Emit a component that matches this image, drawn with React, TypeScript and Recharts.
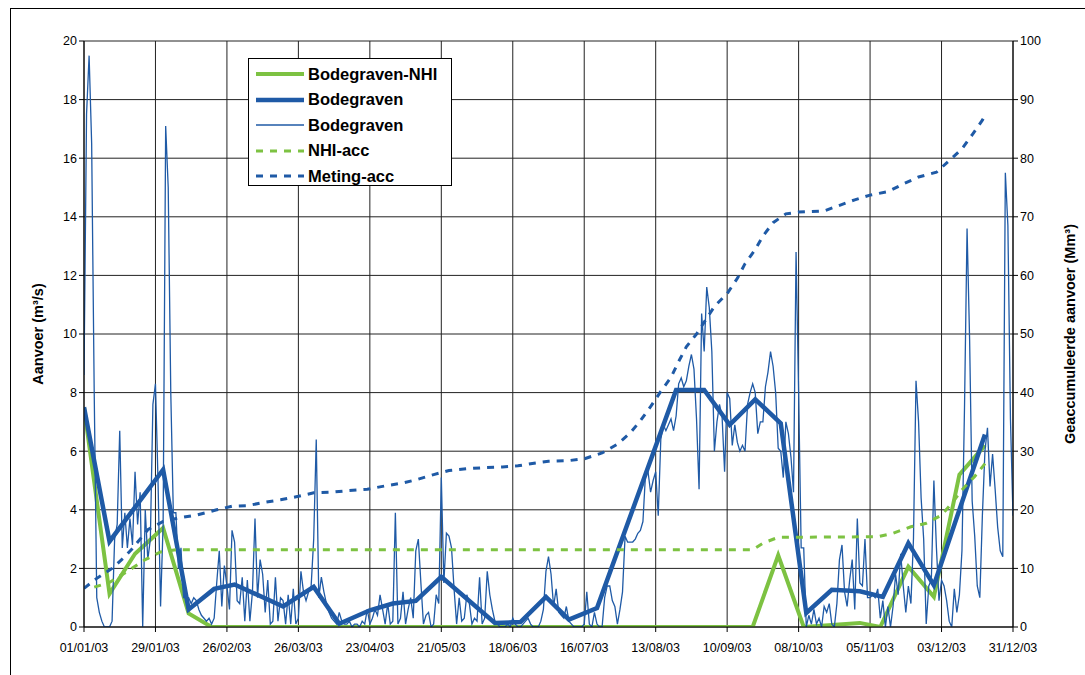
import React from "react";
import { ComposedChart, Line, XAxis, YAxis, CartesianGrid } from "recharts";

const GREEN = "#7DC242";
const BLUE = "#1F5AA6";
const FONT = "'Liberation Sans', Arial, sans-serif";

// x axis: day of year 2003
const tickDays = [0, 28, 56, 84, 112, 140, 168, 196, 224, 252, 280, 308, 336, 364];
const tickLabels = [
  "01/01/03", "29/01/03", "26/02/03", "26/03/03", "23/04/03", "21/05/03", "18/06/03",
  "16/07/03", "13/08/03", "10/09/03", "08/10/03", "05/11/03", "03/12/03", "31/12/03",
];
const flowTicks = [0, 2, 4, 6, 8, 10, 12, 14, 16, 18, 20];
const accTicks = [0, 10, 20, 30, 40, 50, 60, 70, 80, 90, 100];

// daily measured flow Bodegraven (m3/s), day 0 = 01/01/03
const dailyFlow = [
  8.6, 17.5, 19.5, 16.5, 8.0, 1.0, 0.5, 0.2, 0, 0,
  0, 0.2, 3.0, 3.5, 6.7, 2.7, 3.9, 2.7, 3.7, 2.8,
  5.3, 3.5, 4.6, 0, 4.0, 2.3, 3.0, 7.6, 8.3, 5.0,
  0.7, 3.5, 17.1, 15.0, 8.0, 3.9, 3.9, 2.0, 2.7, 1.0,
  1.0, 1.0, 0.8, 1.0, 0.9, 0.6, 0.4, 0.3, 0.2, 0.3,
  0.1, 0.3, 1.5, 2.6, 0.7, 2.1, 1.4, 0.6, 3.3, 2.9,
  0.9, 0.8, 1.7, 0.2, 1.6, 0.2, 1.2, 3.7, 1.0, 2.3,
  1.8, 0.5, 1.6, 0.1, 0.2, 1.7, 0.2, 1.0, 0.9, 0.1,
  1.1, 0.1, 1.3, 0.1, 0.3, 1.9, 1.2, 0.9, 1.2, 1.4,
  3.0, 6.4, 1.0, 1.7, 1.2, 0.8, 0.5, 0.3, 0.2, 0.1,
  0.5, 0.2, 0.1, 0.1, 0.2, 0, 0.1, 0.1, 0, 0.2,
  0.1, 0.6, 0.1, 0.3, 0.6, 0.4, 1.1, 0.6, 0.1, 0.8,
  0.1, 0.2, 3.9, 0.1, 0.3, 1.2, 0.1, 0.6, 1.0, 0.3,
  2.6, 3.0, 1.5, 0.1, 0.4, 0.5, 0, 0.1, 1.1, 0.8,
  5.1, 1.5, 3.2, 3.1, 2.7, 1.3, 0.1, 1.0, 0.2, 0.3,
  1.1, 0.8, 0.1, 0.3, 0.2, 1.7, 0.1, 0.3, 1.9, 1.1,
  0.6, 0.2, 0.1, 0, 0, 0, 0.1, 0, 0.3, 0.1,
  0, 0, 0.1, 0.2, 0.3, 0.1, 0, 0, 0, 0.2,
  0.6, 1.9, 2.4, 1.8, 0.7, 1.3, 0.5, 0.4, 0.3, 0.7,
  0.2, 0.1, 0, 0, 0, 0, 0.1, 1.2, 0.1, 0,
  0.5, 0.1, 0, 0, 1.0, 1.4, 1.4, 0.9, 0.7, 0.1,
  0.6, 1.2, 3.1, 2.9, 2.9, 2.9, 3.0, 3.2, 3.3, 3.6,
  5.2, 5.3, 4.6, 5.0, 5.3, 3.8, 6.4, 6.9, 6.7, 6.9,
  7.1, 6.7, 7.2, 8.3, 8.5, 8.2, 8.4, 8.9, 9.3, 8.8,
  7.1, 4.7, 10.7, 9.4, 11.6, 10.9, 9.4, 6.0, 7.0, 7.6,
  7.2, 5.3, 8.0, 7.8, 6.2, 6.9, 6.3, 6.0, 6.2, 6.0,
  7.6, 8.0, 8.3, 8.0, 6.6, 7.0, 7.0, 8.2, 8.7, 9.4,
  8.9, 8.0, 6.1, 6.0, 5.1, 7.0, 6.6, 5.8, 4.6, 12.8,
  8.0, 2.7, 2.7, 0, 0.4, 0.1, 0.6, 0.1, 0.3, 0,
  0.7, 0.5, 0.8, 0.1, 0, 0.8, 2.3, 2.8, 1.2, 0.7,
  1.6, 2.3, 0.6, 3.7, 1.5, 1.4, 3.0, 1.0, 1.0, 1.1,
  1.0, 1.3, 0.3, 0.9, 0, 0.7, 0, 0.7, 1.8, 1.1,
  2.5, 1.4, 0.5, 1.4, 0.8, 3.0, 8.4, 7.0, 4.4, 3.0,
  0.1, 1.4, 1.6, 5.0, 2.7, 0.9, 1.6, 1.4, 0.9, 0.2,
  0, 1.3, 0.5, 1.1, 2.6, 7.5, 13.6, 9.8, 4.3, 3.1,
  1.4, 1.0, 3.8, 6.0, 6.8, 4.8, 5.9, 4.7, 3.4, 2.6,
  2.4, 15.5, 13.7, 7.1, 3.8,
];

// Bodegraven-NHI (model)
const nhiDays = [0, 10, 20, 31, 41, 50, 262, 272, 282, 304, 312, 323, 333, 343, 353];
const nhiFlow = [7.5, 1.13, 2.5, 3.38, 0.46, 0, 0, 2.45, 0, 0.14, 0, 2.06, 1.03, 5.2, 6.2];

// Bodegraven (period means)
const measDays = [0, 10, 31, 41, 51, 59, 78, 90, 100, 112, 121, 130, 140, 161, 171, 181, 190, 201, 232, 243, 253, 263, 273, 283, 293, 304, 313, 323, 333, 353];
const measFlow = [7.5, 2.92, 5.37, 0.6, 1.3, 1.45, 0.7, 1.37, 0.11, 0.57, 0.8, 0.89, 1.71, 0.14, 0.17, 1.03, 0.25, 0.65, 8.09, 8.09, 6.9, 7.77, 6.95, 0.48, 1.27, 1.22, 1.03, 2.86, 1.43, 6.57];

// accumulated volumes (Mm3)
const nhiAccDays = [4, 10, 17, 24, 30, 36, 262, 266, 272, 311, 317, 324, 330, 336, 340, 344, 349, 354];
const nhiAccVals = [6.8, 7.6, 9.5, 11.5, 12.8, 13.2, 13.2, 14.3, 15.3, 15.4, 16, 17.1, 17.7, 19.1, 21.1, 23.4, 25.7, 28.4];

const metAccDays = [0, 5, 11, 16, 19, 25, 31, 37, 44, 52, 58, 64, 71, 77, 84, 90, 97, 104, 111, 117, 124, 130, 137, 143, 150, 157, 164, 170, 177, 182, 190, 196, 203, 209, 214, 218, 222, 226, 230, 233, 236, 240, 247, 252, 256, 259, 263, 266, 270, 275, 280, 290, 302, 308, 315, 321, 327, 334, 339, 344, 348, 352, 353];
const metAccVals = [6.6, 8.3, 10, 12, 13.4, 16.6, 18, 18.6, 19.1, 20, 20.6, 20.7, 21.3, 21.7, 22.3, 22.9, 23, 23.3, 23.5, 24, 24.5, 25.1, 26, 26.7, 27, 27.2, 27.3, 27.5, 28, 28.3, 28.4, 28.7, 29.7, 31.2, 33.1, 35.2, 37.6, 40.2, 42.6, 45.3, 47.8, 50, 54.7, 56.9, 59.5, 62, 64.4, 66.7, 69, 70.5, 70.8, 71, 72.9, 73.7, 74.3, 75.6, 76.8, 77.6, 79.6, 81.6, 84, 86.5, 87.3];

const pairs = (days: number[], vals: number[]) => days.map((d, i) => ({ day: d, v: vals[i] }));

const dailyData = dailyFlow.map((v, i) => ({ day: i, v }));
const nhiData = pairs(nhiDays, nhiFlow);
const measData = pairs(measDays, measFlow);
const nhiAccData = pairs(nhiAccDays, nhiAccVals);
const metAccData = pairs(metAccDays, metAccVals);

const legendItems = [
  { name: "Bodegraven-NHI", color: GREEN, width: 4, dash: undefined },
  { name: "Bodegraven", color: BLUE, width: 4.5, dash: undefined },
  { name: "Bodegraven", color: BLUE, width: 1.3, dash: undefined },
  { name: "NHI-acc", color: GREEN, width: 3, dash: "7 7" },
  { name: "Meting-acc", color: BLUE, width: 3, dash: "7 7" },
];

const tickStyle = { fontFamily: FONT, fontSize: 12.5, fill: "#000" };

const axisTitle = (text: string, dx: number) => (props: any) => {
  const { viewBox } = props;
  const cx = viewBox.x + dx;
  const cy = viewBox.y + viewBox.height / 2;
  return (
    <text x={cx} y={cy} transform={`rotate(-90 ${cx} ${cy})`} textAnchor="middle" dominantBaseline="central"
      style={{ fontFamily: FONT, fontSize: 14.5, fontWeight: "bold" }} fill="#000">
      {text}
    </text>
  );
};

function ChartLegend() {
  return (
    <div
      style={{
        position: "absolute",
        left: 248,
        top: 58,
        width: 204,
        height: 128,
        border: "1px solid #000",
        background: "#fff",
        fontFamily: FONT,
        fontSize: 16.5,
        fontWeight: "bold",
        boxSizing: "border-box",
      }}
    >
      {legendItems.map((it, i) => (
        <div key={i} style={{ position: "absolute", left: 6, top: 4 + i * 25.6, height: 22, display: "flex", alignItems: "center", whiteSpace: "nowrap" }}>
          <svg width={50} height={10} style={{ marginRight: 3 }}>
            <line x1={1} y1={5} x2={49} y2={5} stroke={it.color} strokeWidth={it.width} strokeDasharray={it.dash} />
          </svg>
          <span>{it.name}</span>
        </div>
      ))}
    </div>
  );
}

export default function App() {
  return (
    <div style={{ position: "fixed", left: 0, top: 0, width: 1085, height: 675, overflow: "hidden", background: "#fff" }}>
      <div style={{ position: "absolute", left: 10, top: 8, width: 1100, height: 700, borderLeft: "1px solid #000", borderTop: "1px solid #000" }} />
      <div style={{ position: "absolute", left: 0, top: 0 }}>
        <ComposedChart
          width={1085}
          height={675}
          data={dailyData}
          margin={{ top: 41, right: 10, left: 10, bottom: 8 }}
        >
          <CartesianGrid yAxisId="left" stroke="#222" strokeWidth={1} />
          <XAxis
            dataKey="day"
            type="number"
            domain={[0, 364]}
            ticks={tickDays}
            interval={0}
            tickFormatter={(d: number) => tickLabels[tickDays.indexOf(d)]}
            tick={tickStyle}
            stroke="#000"
            tickSize={5}
            tickMargin={11}
            height={40}
            allowDataOverflow
          />
          <YAxis
            yAxisId="left"
            domain={[0, 20]}
            ticks={flowTicks}
            interval={0}
            tick={tickStyle}
            stroke="#000"
            tickSize={5}
            width={74}
            allowDataOverflow
            label={axisTitle("Aanvoer (m³/s)", 28)}
          />
          <YAxis
            yAxisId="right"
            orientation="right"
            domain={[0, 100]}
            ticks={accTicks}
            interval={0}
            tick={tickStyle}
            stroke="#000"
            tickSize={5}
            width={62}
            allowDataOverflow
            label={axisTitle("Geaccumuleerde aanvoer (Mm³)", 57)}
          />
          <Line yAxisId="left" data={nhiData} dataKey="v" type="linear" stroke={GREEN} strokeWidth={4} dot={false} isAnimationActive={false} />
          <Line yAxisId="left" data={measData} dataKey="v" type="linear" stroke={BLUE} strokeWidth={4.5} dot={false} isAnimationActive={false} />
          <Line yAxisId="left" data={dailyData} dataKey="v" type="linear" stroke={BLUE} strokeWidth={1.3} dot={false} isAnimationActive={false} />
          <Line yAxisId="right" data={nhiAccData} dataKey="v" type="linear" stroke={GREEN} strokeWidth={3} strokeDasharray="7 7" dot={false} isAnimationActive={false} />
          <Line yAxisId="right" data={metAccData} dataKey="v" type="linear" stroke={BLUE} strokeWidth={3} strokeDasharray="7 7" dot={false} isAnimationActive={false} />
        </ComposedChart>
        <ChartLegend />
      </div>
    </div>
  );
}
